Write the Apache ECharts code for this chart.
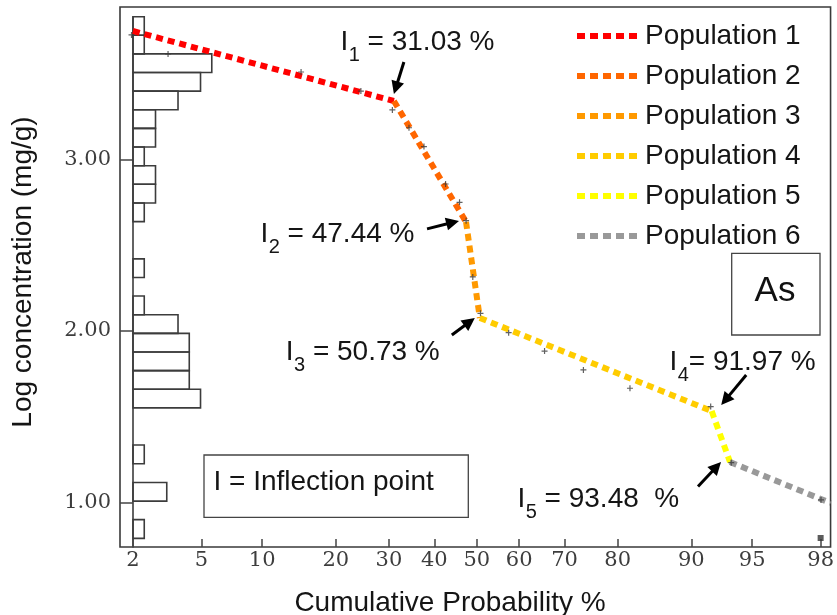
<!DOCTYPE html>
<html>
<head>
<meta charset="utf-8">
<script src="https://cdn.jsdelivr.net/npm/echarts@6/dist/echarts.min.js"></script>
<style>
  html, body { margin: 0; padding: 0; background: #ffffff; }
  #chart { width: 837px; height: 615px; }
</style>
</head>
<body>
<div id="chart"></div>
<script>
// ---- probability axis (cumulative %) and concentration axis ----
const probTicks = [2, 5, 10, 20, 30, 40, 50, 60, 70, 80, 90, 95, 98];
const probRange = [1.655, 98.27];
const concTicks = [1, 2, 3];
const concRange = [0.7405, 3.889];

// ---- histogram of log concentration: bin edges (low -> high) and counts ----
const binEdges = [0.791, 0.900, 1.008, 1.117, 1.226, 1.335, 1.443, 1.552, 1.660, 1.769,
                  1.878, 1.986, 2.095, 2.204, 2.312, 2.421, 2.530, 2.638, 2.747, 2.856,
                  2.964, 3.073, 3.182, 3.290, 3.399, 3.508, 3.616, 3.725, 3.833];
const binCounts = [1, 0, 3, 0, 1, 0, 0, 6, 5, 5, 5, 4, 1, 0, 1, 0, 0, 1, 2, 2, 1, 2, 2, 4, 6, 7, 1, 1];
const histCountMax = 62.2;

// ---- fitted populations: segment end points (cumulative %, log concentration) ----
const popNames = ['Population 1', 'Population 2', 'Population 3', 'Population 4', 'Population 5', 'Population 6'];
const popColors = ['#ff0000', '#ff6600', '#ff9900', '#ffcc00', '#ffff00', '#999999'];
const popProb = [[2.0, 31.03], [31.03, 47.44], [47.44, 50.73], [50.73, 91.97], [91.97, 93.48], [93.48, 98.27]];
const popConc = [[3.749, 3.341], [3.341, 2.636], [2.636, 2.076], [2.076, 1.533], [1.533, 1.236], [1.236, 0.997]];

// ---- samples on the probability plot ----
const sampleProb = [1.96, 3.26, 14.7, 24.44, 30.71, 34.28, 37.62, 42.61, 45.9, 47.46,
                    49.05, 50.88, 57.55, 65.72, 73.79, 81.99, 91.88, 93.57, 98.01];
const sampleConc = [3.726, 3.615, 3.510, 3.399, 3.289, 3.185, 3.075, 2.857, 2.750, 2.643,
                    2.315, 2.103, 1.990, 1.883, 1.773, 1.666, 1.559, 1.232, 1.015];
const lowProb = [98.0];
const lowConc = [0.793];

// ---- inflection points ----
const inflectIndex = ['1', '2', '3', '4', '5'];
const inflectProb = [31.03, 47.44, 50.73, 91.97, 93.48];
const inflectConc = [3.341, 2.636, 2.076, 1.533, 1.236];

// inverse standard normal CDF (Acklam), p in (0,1)
function normInv(p) {
  const a = [-3.969683028665376e+01, 2.209460984245205e+02, -2.759285104469687e+02, 1.383577518672690e+02, -3.066479806614716e+01, 2.506628277459239e+00];
  const b = [-5.447609879822406e+01, 1.615858368580409e+02, -1.556989798598866e+02, 6.680131188771972e+01, -1.328068155288572e+01];
  const c = [-7.784894002430293e-03, -3.223964580411365e-01, -2.400758277161838e+00, -2.549732539343734e+00, 4.374664141464968e+00, 2.938163982698783e+00];
  const d = [7.784695709041462e-03, 3.224671290700398e-01, 2.445134137142996e+00, 3.754408661907416e+00];
  const pl = 0.02425, ph = 1 - pl;
  let q, r;
  if (p < pl) {
    q = Math.sqrt(-2 * Math.log(p));
    return (((((c[0]*q+c[1])*q+c[2])*q+c[3])*q+c[4])*q+c[5]) / ((((d[0]*q+d[1])*q+d[2])*q+d[3])*q+1);
  }
  if (p <= ph) {
    q = p - 0.5; r = q * q;
    return (((((a[0]*r+a[1])*r+a[2])*r+a[3])*r+a[4])*r+a[5])*q / (((((b[0]*r+b[1])*r+b[2])*r+b[3])*r+b[4])*r+1);
  }
  q = Math.sqrt(-2 * Math.log(1 - p));
  return -(((((c[0]*q+c[1])*q+c[2])*q+c[3])*q+c[4])*q+c[5]) / ((((d[0]*q+d[1])*q+d[2])*q+d[3])*q+1);
}
const zOf = pct => normInv(pct / 100);

const SANS = 'Liberation Sans, Arial, sans-serif';
const SERIF = 'DejaVu Serif, serif';
const tickZ = probTicks.map(zOf);

function probLabel(v) {
  let best = 0;
  tickZ.forEach((z, i) => { if (Math.abs(z - v) < Math.abs(tickZ[best] - v)) best = i; });
  return String(probTicks[best]);
}

// legend key: five square dots
const DOTS_ICON = 'path://M0,0H8V6H0Z M13,0H21V6H13Z M26,0H34V6H26Z M39,0H47V6H39Z M52,0H60V6H52Z';

const chart = echarts.init(document.getElementById('chart'), null, { renderer: 'canvas' });

const series = [];
// histogram bars
series.push({
  type: 'custom',
  name: 'histogram',
  xAxisIndex: 1,
  yAxisIndex: 1,
  silent: true,
  z: 1,
  data: binCounts.map((n, i) => [n, binEdges[i], binEdges[i + 1]]).filter(d => d[0] > 0),
  renderItem: function (params, api) {
    const p0 = api.coord([0, api.value(1)]);
    const p1 = api.coord([api.value(0), api.value(2)]);
    return {
      type: 'rect',
      shape: { x: p0[0], y: p1[1], width: p1[0] - p0[0], height: p0[1] - p1[1] },
      style: { fill: 'none', stroke: '#3c3c3c', lineWidth: 1.6 }
    };
  }
});
// population lines
popNames.forEach((name, i) => {
  series.push({
    type: 'line',
    name: name,
    xAxisIndex: 0,
    yAxisIndex: 0,
    z: 3,
    symbol: 'none',
    silent: true,
    data: popProb[i].map((p, j) => [zOf(p), popConc[i][j]]),
    lineStyle: { color: popColors[i], width: 6, type: [7, 5], cap: 'butt' },
    itemStyle: { color: popColors[i] }
  });
});
// samples
series.push({
  type: 'scatter',
  name: 'samples',
  xAxisIndex: 0,
  yAxisIndex: 0,
  z: 4,
  silent: true,
  symbol: 'path://M2,0H3V5H2ZM0,2H5V3H0Z',
  symbolSize: 6,
  itemStyle: { color: '#3a3a3a' },
  data: sampleProb.map((p, i) => [zOf(p), sampleConc[i]])
});
series.push({
  type: 'scatter',
  name: 'low',
  xAxisIndex: 0,
  yAxisIndex: 0,
  z: 4,
  silent: true,
  symbol: 'rect',
  symbolSize: 6,
  itemStyle: { color: '#333333' },
  data: lowProb.map((p, i) => [zOf(p), lowConc[i]])
});

chart.setOption({
  animation: false,
  backgroundColor: '#ffffff',
  grid: [
    { left: 120, top: 7, right: 4, bottom: 68, show: true, borderColor: '#3a3a3a', borderWidth: 1.6, backgroundColor: 'transparent' },
    { left: 133, top: 16.7, right: 4, bottom: 68 }
  ],
  xAxis: [
    {
      type: 'value', gridIndex: 0,
      min: zOf(probRange[0]), max: zOf(probRange[1]),
      axisLine: { show: false, onZero: false },
      splitLine: { show: false },
      axisTick: { show: true, inside: true, length: 8, customValues: tickZ, lineStyle: { color: '#444', width: 1.5 } },
      axisLabel: { show: true, customValues: tickZ, formatter: probLabel, margin: 3,
                   fontFamily: SERIF, fontSize: 21, color: '#3d3d3d' }
    },
    { type: 'value', gridIndex: 1, min: 0, max: histCountMax, show: false }
  ],
  yAxis: [
    {
      type: 'value', gridIndex: 0,
      min: concRange[0], max: concRange[1],
      axisLine: { show: false, onZero: false },
      splitLine: { show: false },
      axisTick: { show: true, inside: true, length: 13, customValues: concTicks, lineStyle: { color: '#444', width: 1.5 } },
      axisLabel: { show: true, customValues: concTicks, formatter: v => v.toFixed(2), margin: 9,
                   fontFamily: SERIF, fontSize: 21, color: '#3d3d3d' }
    },
    {
      type: 'value', gridIndex: 1,
      min: concRange[0], max: binEdges[binEdges.length - 1],
      axisLine: { show: true, onZero: false, lineStyle: { color: '#3c3c3c', width: 1.6 } },
      axisTick: { show: false }, axisLabel: { show: false }, splitLine: { show: false }
    }
  ],
  legend: {
    data: popNames.map(n => ({ name: n, icon: DOTS_ICON })),
    orient: 'vertical',
    left: 572,
    top: 16,
    itemWidth: 60,
    itemHeight: 6,
    itemGap: 10,
    selectedMode: false,
    textStyle: { fontFamily: SANS, fontSize: 28, color: '#151515', lineHeight: 28, padding: [2, 0, 0, 3] }
  },
  series: series
});

// ---- annotations: axis titles, inflection labels with arrows, boxes ----
const graphics = [];
function txt(x, y, text, size, extra) {
  return Object.assign({
    type: 'text', x: x, y: y, silent: true, z: 10,
    style: { text: text, fontFamily: SANS, fontSize: size, fill: '#151515', align: 'left', verticalAlign: 'middle' }
  }, extra || {});
}

graphics.push({
  type: 'text', x: 450, y: 603, silent: true, z: 10,
  style: { text: 'Cumulative Probability %', fontFamily: SANS, fontSize: 28, fill: '#151515', align: 'center', verticalAlign: 'middle' }
});
graphics.push({
  type: 'text', x: 23, y: 272, rotation: Math.PI / 2, silent: true, z: 10,
  style: { text: 'Log concentration (mg/g)', fontFamily: SANS, fontSize: 28, fill: '#151515', align: 'center', verticalAlign: 'middle' }
});

// label layout: left x of "I", main baseline, separator before the value
const labelPos = [[340.5, 53.3, ' = '], [260.5, 245, ' = '], [285.8, 363.3, ' = '], [669.5, 373.3, '= '], [517.5, 510, ' = ']];
const labelTail = [' %', ' %', ' %', ' %', '  %'];
inflectProb.forEach((p, i) => {
  const [x0, base, sep] = labelPos[i];
  graphics.push(txt(x0, base - 11, 'I', 28));
  graphics.push(txt(x0 + 8.2, base + 10 - 8, inflectIndex[i], 20));
  graphics.push(txt(x0 + 8.2 + 11.1, base - 11, sep + p.toFixed(2) + labelTail[i], 28));
});

// arrows: tip and tail offsets from each inflection vertex
const arrowOffsets = [
  [[0, -7], [10, -39]],
  [[-7, -1], [-39, 7]],
  [[-5, 0], [-28, 17]],
  [[9.5, -6], [34.5, -36]],
  [[-9, 0], [-32, 24.5]]
];
inflectProb.forEach((p, i) => {
  const v = chart.convertToPixel({ xAxisIndex: 0, yAxisIndex: 0 }, [zOf(p), inflectConc[i]]);
  const tip = [v[0] + arrowOffsets[i][0][0], v[1] + arrowOffsets[i][0][1]];
  const tail = [v[0] + arrowOffsets[i][1][0], v[1] + arrowOffsets[i][1][1]];
  const dx = tip[0] - tail[0], dy = tip[1] - tail[1];
  const len = Math.sqrt(dx * dx + dy * dy);
  const ux = dx / len, uy = dy / len;
  const hl = 13, hw = 6.5;
  const bx = tip[0] - ux * hl, by = tip[1] - uy * hl;
  graphics.push({ type: 'line', silent: true, z: 10,
    shape: { x1: tail[0], y1: tail[1], x2: bx + ux * 2, y2: by + uy * 2 },
    style: { stroke: '#000', lineWidth: 3 } });
  graphics.push({ type: 'polygon', silent: true, z: 10,
    shape: { points: [tip, [bx - uy * hw, by + ux * hw], [bx + uy * hw, by - ux * hw]] },
    style: { fill: '#000' } });
});

// boxes
graphics.push({ type: 'rect', silent: true, z: 9,
  shape: { x: 204, y: 455, width: 264.3, height: 62.3 },
  style: { fill: '#ffffff', stroke: '#444', lineWidth: 1.3 } });
graphics.push(txt(213.5, 493.3 - 11, 'I = Inflection point', 28));
graphics.push({ type: 'rect', silent: true, z: 9,
  shape: { x: 731.7, y: 253.3, width: 88.3, height: 81.7 },
  style: { fill: '#ffffff', stroke: '#444', lineWidth: 1.3 } });
graphics.push({ type: 'text', x: 775, y: 305 - 14, silent: true, z: 10,
  style: { text: 'As', fontFamily: SANS, fontSize: 35, fill: '#111', align: 'center', verticalAlign: 'middle' } });

chart.setOption({ graphic: graphics });
</script>
</body>
</html>
